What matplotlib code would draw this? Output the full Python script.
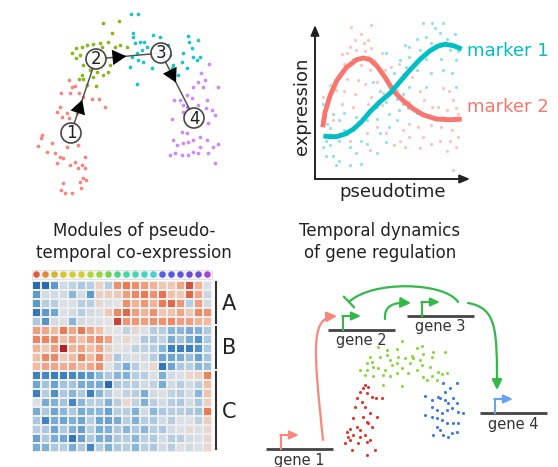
import numpy as np
import matplotlib
matplotlib.use('Agg')
import matplotlib.pyplot as plt
from matplotlib.path import Path
from matplotlib.patches import FancyArrowPatch, Rectangle, Circle
from matplotlib.colors import LinearSegmentedColormap

# ---- panel 1: trajectory on a 2D embedding (figure pixel units) ----
cyan_pts = [(131,14),(138,14),(133,33),(133,37),(135,43),(140,42),(144,42),(153,35),(160,37),(168,45),
            (147,47),(142,50),(137,53),(132,57),(138,60),(130,67),(143,62),(152,68),(137,84),(183,53),
            (188,36),(189,42),(198,40),(192,48),(193,57),(200,57),(197,60),(182,62),(187,68),(173,65),
            (172,68),(178,75),(170,55),(165,47)]
green_pts = [(103,23),(119,21),(112,33),(108,42),(100,43),(93,44),(87,45),(82,47),(76,48),(72,53),
             (80,55),(76,58),(83,65),(102,47),(115,47),(120,45),(127,47),(103,60),(110,65),(108,72),
             (103,75),(97,72),(90,70),(82,75),(79,79),(83,79),(87,85),(96,86),(93,77)]
red_pts = [(69,80),(75,86),(72,87),(61,93),(70,93),(79,93),(83,97),(92,99),(99,99),(105,107),
           (60,107),(57,112),(67,113),(62,117),(69,118),(80,110),(77,113),(42,135),(41,138),(38,146),
           (47,152),(52,143),(55,153),(60,157),(63,158),(67,147),(78,145),(85,157),(75,162),(82,165),
           (78,168),(70,165),(85,168),(86,180),(83,178),(80,182),(63,183),(61,190),(65,193),(72,193),
           (81,188),(57,163)]
purple_pts = [(209,64),(201,73),(205,80),(198,82),(193,87),(203,87),(218,87),(187,95),(180,100),(174,100),
              (183,105),(192,98),(207,100),(198,105),(212,110),(206,108),(187,107),(183,112),(172,119),(182,132),
              (173,140),(177,145),(183,143),(188,142),(193,140),(200,137),(207,140),(213,147),(218,144),(208,153),
              (198,153),(188,155),(182,155),(175,153),(170,155),(193,152),(215,163),(187,133),(200,147),(208,123),
              (215,115)]
node_labels = ['1', '2', '3', '4']
node_xy = [(71,133), (96,59), (161,53), (194,118)]

# ---- panel 2: expression along pseudotime ----
m1_curve_t = [5.5,9.9,14.3,19.7,25.2,30.7,36.2,42.8,49.3,55.9,62.5,69.1,75.7,81.1,85.5,91.0,96.5]
m1_curve_y = [27.9,27.5,27.5,29.2,32.3,37.3,43.7,50.2,55.6,63.2,70.8,77.7,83.3,86.4,87.5,86.6,84.4]
m2_curve_t = [5.1,6.6,9.9,14.3,20.8,27.4,31.8,36.2,40.6,46.1,51.5,58.1,64.7,71.3,80.0,88.8,96.5]
m2_curve_y = [33.6,43.3,54.1,63.9,72.6,77.5,78.6,77.5,73.6,66.0,57.3,50.8,45.5,41.6,38.9,38.5,38.9]
m2_dots = [(24,99),(37,100),(30,94),(26,90),(32,88),(35,90),(23,86),(27,84),(33,83),(37,85),(21,82),(18,81),
           (25,78),(35,79),(39,77),(44,82),(19,75),(30,74),(36,71),(42,72),(46,71),(50,73),(16,68),(21,65),
           (28,64),(33,62),(41,63),(47,65),(55,75),(58,68),(64,66),(14,58),(19,57),(26,55),(37,53),(45,56),
           (54,58),(18,49),(25,47),(35,49),(44,48),(62,50),(69,57),(72,51),(77,47),(84,59),(88,57),(91,51),
           (81,47),(87,45),(93,46),(79,40),(84,40),(89,38),(94,42),(83,34),(90,32),(76,35),(68,34),(62,36),
           (58,32),(62,27),(56,25),(59,21),(52,22),(69,20),(76,23),(82,25),(89,25),(94,27),(71,27),(87,18),
           (93,21),(91,6),(47,30),(41,34),(34,30),(10,29),(12,38),(8,47),(5,53),(10,61),(36,19),(23,25)]
m1_dots = [(71,101),(77,101),(84,101),(79,98),(82,95),(87,91),(92,94),(73,92),(67,91),(76,88),(80,86),(89,84),
           (94,83),(62,86),(59,87),(69,84),(62,79),(73,78),(83,78),(93,77),(56,77),(60,73),(67,71),(52,69),
           (47,82),(38,63),(43,57),(49,61),(54,52),(58,55),(62,60),(47,50),(41,47),(55,45),(61,46),(49,42),
           (34,38),(41,39),(27,40),(19,43),(12,42),(16,38),(8,36),(5,49),(10,33),(19,32),(25,34),(21,29),
           (30,25),(34,23),(43,30),(49,34),(16,25),(10,22),(7,25),(23,21),(27,17),(12,15),(7,15),(16,12),
           (14,9),(23,9),(30,10),(5,21),(41,17),(47,24),(54,38),(67,43),(58,49),(73,60),(76,69),(84,71),
           (90,69),(93,60)]

# ---- panel 3: module heatmap ----
module_names = ['A', 'B', 'C']
module_rows = [5, 5, 9]
heat = [
    [-2.5,-2.5,-1.5,-0.2,-0.4,-0.6,-0.5,0.4,-0.5,1.5,1.8,1.5,1.3,1.0,0.6,0.6,1.2,2.2,1.0,-0.1],
    [-1.5,-0.2,-0.2,-0.2,-1.0,-0.2,-1.5,0.4,0.5,0.6,1.3,1.6,1.8,1.5,1.9,0.7,0.6,2.0,1.2,-0.3],
    [-1.5,-0.5,-0.5,-0.1,-0.1,-0.5,-0.5,0.3,-0.1,0.0,1.5,1.0,1.4,1.0,1.8,2.0,1.4,-0.5,1.3,-0.2],
    [-2.2,-1.5,-1.3,-0.1,-0.2,-0.5,-0.2,-0.1,0.6,1.6,2.0,1.3,1.0,1.5,0.6,0.7,1.2,0.6,1.6,1.5],
    [-0.6,-1.6,-0.2,-0.1,-1.0,-0.2,-0.1,-0.1,0.0,2.4,1.4,1.4,1.3,1.5,1.5,1.6,1.3,1.3,1.0,0.9],
    [1.3,1.2,0.9,1.8,1.2,1.8,1.2,0.8,0.1,0.0,-0.4,0.3,-0.1,-0.5,-0.5,-1.0,-1.0,-1.2,-1.1,-0.6],
    [1.7,1.7,1.6,0.8,1.2,0.8,1.3,1.6,1.2,-0.1,0.3,0.0,-0.6,-0.6,-0.4,-1.2,-0.7,-1.2,-1.6,-0.6],
    [1.0,0.6,1.3,3.0,1.0,1.2,0.8,1.2,0.4,0.0,-0.1,-0.4,-0.4,-0.5,-1.0,-2.0,-2.0,-2.0,-1.6,-0.6],
    [0.8,1.6,1.6,0.5,0.9,1.7,0.9,1.6,0.5,-0.6,-0.2,-0.1,-0.2,-0.5,-1.3,-1.3,-1.2,-0.8,-1.4,-0.7],
    [0.9,1.2,1.2,1.1,1.2,0.9,1.2,1.5,0.0,-0.5,-1.2,-0.5,-0.1,0.3,-2.2,-1.3,-0.6,-0.5,-1.0,-0.8],
    [-2.0,-1.8,-2.0,-2.0,-1.8,-1.7,-1.5,-1.0,-0.6,-1.0,-1.1,-0.5,-0.5,-0.1,-1.1,-0.2,-0.1,0.3,0.4,1.7],
    [-1.3,-0.7,-1.4,-0.7,-0.7,-1.2,-1.2,-1.2,-2.5,-0.6,-0.5,-0.5,-0.2,-0.4,-1.2,-0.2,-0.5,-0.2,-0.5,0.8],
    [-2.0,-0.5,-1.7,-0.6,-1.0,-0.6,-2.0,-1.0,-0.5,-0.1,-0.4,-0.5,-1.2,-0.2,-0.1,-0.4,-0.5,-0.2,-1.0,0.7],
    [-0.1,-1.2,-1.1,-0.7,-1.8,-1.0,-0.5,-0.5,-1.1,-0.5,0.3,-0.4,-1.1,-0.5,-0.2,-0.5,-0.6,-0.2,-0.6,0.4],
    [-1.2,-0.6,-1.3,-1.0,-0.6,-1.2,-1.0,-1.0,-1.4,-0.5,-0.5,-1.1,-0.2,-1.0,-0.6,-0.5,-0.5,-0.6,-0.7,1.8],
    [-0.6,-1.9,-1.2,-1.3,-1.1,-1.3,-0.5,-1.3,-1.4,-1.2,-0.5,-1.1,-0.5,-0.6,-0.2,-0.5,-0.1,-0.1,-0.4,0.5],
    [-0.5,-0.6,-1.3,-0.6,-1.1,-1.4,-0.5,-1.2,-1.1,-0.6,-1.0,-0.6,-1.0,-0.5,-0.6,-0.2,-0.1,0.2,-0.1,0.3],
    [-1.4,-0.6,-1.2,-1.3,-2.2,-1.4,-0.6,-1.2,-1.2,-0.6,-0.5,-1.0,-0.5,-0.6,-0.2,-0.5,-0.5,-0.2,-0.1,0.3],
    [-1.2,-1.1,-0.6,-0.5,-1.2,-0.6,-1.8,-0.5,-1.1,-0.6,-0.5,-1.0,-0.5,-0.6,-0.2,-0.5,-0.1,-0.2,-0.1,0.3],
]
cell_colors = ['#e25a3c','#e38a34','#d6b52e','#d6c72e','#d3cf30','#cbd433','#b8d63c','#93d543','#72d64e',
               '#45d68a','#45d8a2','#45d8b5','#45d6c6','#47cfd8','#5560e0','#5a58e2','#6152e2','#6a4ce2',
               '#7448e2','#a443e0']

# ---- panel 4: gene regulation schematic ----
gene_names = ['gene 1', 'gene 2', 'gene 3', 'gene 4']
gene_colors = ['#f8877d', '#33b94a', '#33b94a', '#6aa2f2']
reg_red = [(365,385),(363,388),(368,387),(360,392),(367,393),(372,397),(376,398),(382,398),(357,398),(362,402),
           (355,407),(365,407),(370,413),(367,422),(368,423),(363,417),(357,427),(350,429),(347,432),(353,435),
           (348,437),(360,437),(365,435),(367,442),(370,440),(358,443),(352,450),(367,455),(375,450),(345,443),
           (350,440),(360,430),(377,417),(372,427),(353,418)]
reg_green = [(378,347),(387,350),(397,349),(402,341),(417,348),(422,346),(433,352),(445,352),(370,357),(380,357),
             (387,355),(390,360),(398,357),(405,358),(412,356),(423,354),(432,357),(367,363),(373,367),(378,368),
             (385,370),(392,365),(397,363),(402,368),(410,363),(417,370),(422,365),(430,367),(438,372),(447,373),
             (360,370),(365,375),(373,376),(383,375),(390,376),(402,386),(383,385),(423,377),(432,376),(437,380),
             (442,374),(427,380),(397,373),(408,373),(413,358),(420,360),(367,370),(372,362)]
reg_blue = [(443,383),(450,388),(457,383),(445,392),(438,397),(425,396),(432,400),(440,398),(445,400),(448,403),
            (453,398),(457,403),(432,407),(437,410),(442,413),(447,410),(452,408),(458,412),(463,413),(425,415),
            (432,417),(437,418),(442,420),(447,423),(453,423),(458,423),(437,427),(440,430),(433,435),(443,435),
            (452,433),(457,432),(448,437)]

W, H = 558, 467
fig = plt.figure(figsize=(W / 100, H / 100), dpi=100)
ax = fig.add_axes([0, 0, 1, 1])
ax.set_xlim(0, W)
ax.set_ylim(H, 0)
ax.axis('off')
txt = '#222222'

# panel 1
for pts, c in [(red_pts, '#f8766d'), (green_pts, '#7cae00'), (cyan_pts, '#00bfc4'), (purple_pts, '#c77cff')]:
    p = np.array(pts)
    ax.scatter(p[:, 0], p[:, 1], s=7, color=c, lw=0, alpha=0.9, zorder=2)
nodes = np.array(node_xy, dtype=float)
ax.plot(nodes[:, 0], nodes[:, 1], color='#555555', lw=1.1, zorder=3)
for a, b in zip(nodes[:-1], nodes[1:]):
    d = (b - a) / np.hypot(*(b - a))
    tip = a + (b - a) * 0.36 + d * 7
    ax.annotate('', xy=tip, xytext=tip - d * 14,
                arrowprops=dict(arrowstyle='-|>,head_length=1.0,head_width=0.55',
                                color='black', lw=0, shrinkA=0, shrinkB=0), zorder=4)
for (x, y), lab in zip(node_xy, node_labels):
    ax.add_patch(Circle((x, y), 10, facecolor='white', edgecolor='#333333', lw=1.2, alpha=0.9, zorder=5))
    ax.text(x, y + 0.5, lab, ha='center', va='center', fontsize=12, color=txt, zorder=6)

# panel 2
ax2 = fig.add_axes([315 / W, 1 - 179 / H, 152 / W, 154 / H])
ax2.set_xlim(0, 100)
ax2.set_ylim(0, 100)
ax2.axis('off')
ax2.patch.set_alpha(0)
for dots, c in [(m2_dots, '#f8766d'), (m1_dots, '#00bfc4')]:
    p = np.array(dots)
    ax2.scatter(p[:, 0], p[:, 1], s=5, color=c, alpha=0.45, lw=0, clip_on=False)
ax2.plot(m2_curve_t, m2_curve_y, color='#f8766d', lw=3.5, solid_capstyle='butt', clip_on=False)
ax2.plot(m1_curve_t, m1_curve_y, color='#00bfc4', lw=3.5, solid_capstyle='butt', clip_on=False)
for end in [(0, 1.0), (1.02, 0)]:
    ax2.annotate('', xy=end, xytext=(0, 0), xycoords='axes fraction',
                 arrowprops=dict(arrowstyle='-|>,head_length=0.6,head_width=0.25',
                                 color='#222222', lw=1.4, shrinkA=0, shrinkB=0))
ax.text(302, 106, 'expression', rotation=90, ha='center', va='center', fontsize=13, color=txt)
ax.text(393, 192, 'pseudotime', ha='center', va='center', fontsize=13, color=txt)
ax.text(467, 51, 'marker 1', ha='left', va='center', fontsize=13, color='#00bfc4')
ax.text(467, 107, 'marker 2', ha='left', va='center', fontsize=13, color='#f8766d')

# titles
ax.text(134, 242, 'Modules of pseudo-\ntemporal co-expression', ha='center', va='center',
        fontsize=12, color=txt, linespacing=1.25)
ax.text(380, 242, 'Temporal dynamics\nof gene regulation', ha='center', va='center',
        fontsize=12, color=txt, linespacing=1.25)

# panel 3
hm_cmap = LinearSegmentedColormap.from_list(
    'mod', ['#1f5fa8', '#3f86c2', '#8dbbdc', '#e3e4e6', '#f5b899', '#e8764f', '#b51f25'])
hm = np.array(heat)
nr, nc = hm.shape
ax3 = fig.add_axes([32 / W, 1 - 452 / H, 180 / W, 171 / H])
ax3.pcolormesh(hm, cmap=hm_cmap, vmin=-2.8, vmax=2.8, edgecolors='#eeeeee', lw=0.25)
ax3.set_xlim(0, nc)
ax3.set_ylim(nr, 0)
ax3.axis('off')
ax3.add_patch(Rectangle((0, -1.25), nc, 1.05, facecolor='#f3f3f3', edgecolor='#dddddd',
                        lw=0.6, clip_on=False))
ax3.scatter(np.arange(nc) + 0.5, np.full(nc, -0.72), s=22, c=cell_colors, lw=0, clip_on=False, zorder=3)
start = 0
for name, n in zip(module_names, module_rows):
    ax3.plot([nc + 0.45, nc + 0.45], [start + 0.15, start + n - 0.3], color='#333333', lw=1.5, clip_on=False)
    ax3.text(nc + 1.85, start + n / 2, name, ha='center', va='center', fontsize=15, color=txt)
    start += n

# panel 4
for pts, c in [(reg_red, '#e0352b'), (reg_green, '#8cd83a'), (reg_blue, '#3d7be0')]:
    p = np.array(pts)
    ax.scatter(p[:, 0], p[:, 1], s=5, color=c, lw=0, zorder=2)

gene_line = [(266, 333, 449), (328, 395, 330), (407, 474, 316), (480, 547, 413)]
for name, col, (x0, x1, y) in zip(gene_names, gene_colors, gene_line):
    ax.plot([x0, x1], [y, y], color='#444444', lw=2, solid_capstyle='butt')
    px = x0 + 15
    ax.plot([px, px], [y, y - 14], color=col, lw=1.5)
    ax.annotate('', xy=(px + 18, y - 14), xytext=(px - 0.7, y - 14),
                arrowprops=dict(arrowstyle='-|>,head_length=0.55,head_width=0.25',
                                color=col, lw=1.5, shrinkA=0, shrinkB=0))
    ax.text((x0 + x1) / 2, y + 11, name, ha='center', va='center', fontsize=10.5, color='#333333')

C4 = [Path.MOVETO, Path.CURVE4, Path.CURVE4, Path.CURVE4]
links = [
    ([(323, 440), (313, 345), (311, 318), (337, 316)], '#f8877d', '-|>,head_length=0.5,head_width=0.25'),
    ([(385, 319), (384, 306), (393, 302), (411, 303)], '#33b94a', '-|>,head_length=0.5,head_width=0.25'),
    ([(458, 302), (445, 282), (372, 280), (349, 302)], '#33b94a', '-[,widthB=0.45,lengthB=0'),
    ([(468, 303), (497, 308), (497, 330), (497, 390)], '#33b94a', '-|>,head_length=0.5,head_width=0.25'),
]
for verts, col, style in links:
    ax.add_patch(FancyArrowPatch(path=Path(verts, C4), arrowstyle=style, mutation_scale=12,
                                 color=col, lw=1.6))

fig.savefig('out.png', dpi=100)
